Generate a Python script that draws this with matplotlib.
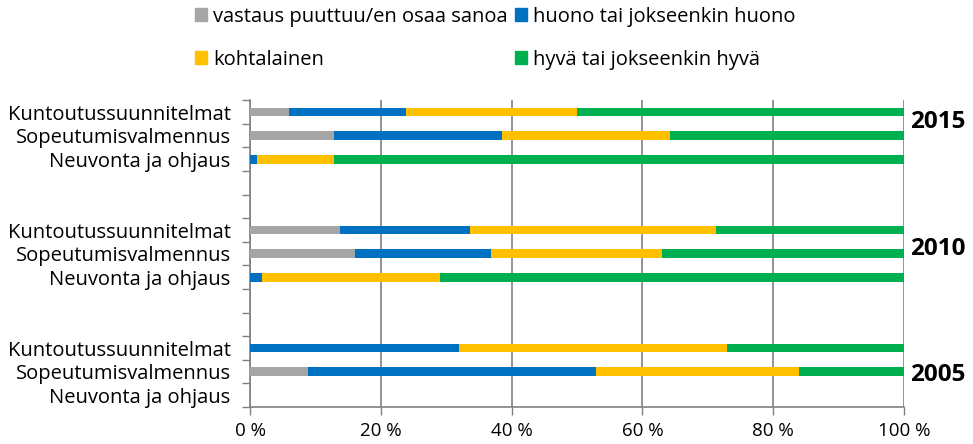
import matplotlib.pyplot as plt
from matplotlib.patches import Patch

plt.rcParams['font.family'] = ['Open Sans', 'DejaVu Sans']

years = ["2015", "2010", "2005"]
categories = ["Kuntoutussuunnitelmat", "Sopeutumisvalmennus", "Neuvonta ja ohjaus"]

# shares in %, order: 2015 x 3 categories, 2010 x 3, 2005 x 3
missing = [6.0, 12.8, 0.0, 13.8, 16.0, 0.0, 0.0, 8.9, 0.0]
poor = [17.9, 25.7, 1.0, 19.8, 20.9, 1.9, 32.0, 44.0, 0.0]
moderate = [26.1, 25.8, 11.9, 37.7, 26.1, 27.1, 41.0, 31.1, 0.0]
good = [50.0, 35.7, 87.1, 28.7, 37.0, 71.0, 27.0, 16.0, 0.0]

series = [
    ("vastaus puuttuu/en osaa sanoa", missing, "#A5A5A5"),
    ("huono tai jokseenkin huono", poor, "#0070C0"),
    ("kohtalainen", moderate, "#FFC000"),
    ("hyvä tai jokseenkin hyvä", good, "#00B050"),
]

# row positions: 3 bars per year, two empty rows between years
positions = []
labels = []
for g in range(len(years)):
    for i, cat in enumerate(categories):
        positions.append(12 - (g * 5 + i))
        labels.append(cat)

fig = plt.figure(figsize=(9.73, 4.44), dpi=100)
ax = fig.add_axes([0.257, 0.0833, 0.672, 0.691])

left = [0.0] * len(positions)
for name, vals, color in series:
    ax.barh(positions, vals, left=left, height=0.38, color=color, label=name, zorder=3)
    left = [l + v for l, v in zip(left, vals)]

ax.set_xlim(0, 100)
ax.set_ylim(-0.5, 12.5)
ax.set_xticks(range(0, 101, 20))
ax.set_xticklabels([f"{t} %" for t in range(0, 101, 20)], fontsize=13.5)
ax.set_yticks(positions)
ax.set_yticklabels(labels, fontsize=14.5)
ax.tick_params(axis='y', length=0, pad=14)
ax.set_yticks([k - 0.5 for k in range(14)], minor=True)
ax.tick_params(axis='y', which='minor', length=6, color='#808080', width=1)
ax.tick_params(axis='x', length=6, color='#808080', width=1, pad=5)

ax.grid(axis='x', color='#808080', linewidth=1.2, zorder=0)
for side in ['top', 'right']:
    ax.spines[side].set_visible(False)
for side in ['left', 'bottom']:
    ax.spines[side].set_color('#808080')
    ax.spines[side].set_linewidth(1.2)

year_y = [11.56, 6.19, 0.86]
for yr, yy in zip(years, year_y):
    ax.text(1.01, yy, yr, transform=ax.get_yaxis_transform(), fontsize=17.5,
            fontweight='bold', va='center', ha='left')

handles = [Patch(color=c) for _, _, c in series]
names = [n for n, _, _ in series]
legend_kw = dict(loc='upper left', frameon=False, fontsize=14.5,
                 handlelength=0.6, handleheight=0.6, handletextpad=0.3,
                 labelspacing=1.15, borderpad=0, borderaxespad=0)
fig.legend([handles[0], handles[2]], [names[0], names[2]],
           bbox_to_anchor=(0.2004, 0.985), **legend_kw)
fig.legend([handles[1], handles[3]], [names[1], names[3]],
           bbox_to_anchor=(0.529, 0.985), **legend_kw)

fig.savefig("out.png", dpi=100)
